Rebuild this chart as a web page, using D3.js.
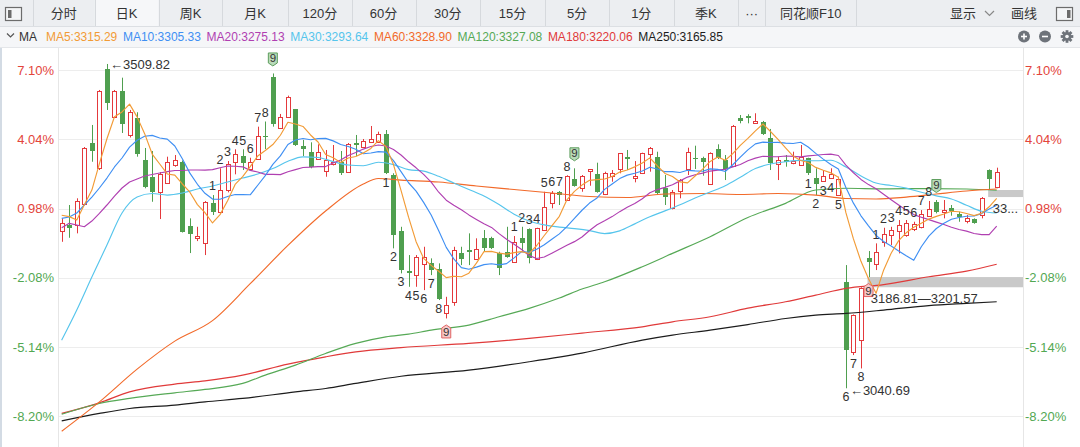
<!DOCTYPE html>
<html lang="zh-CN">
<head>
  <meta charset="UTF-8">
  <title>日K</title>
  <script src="https://d3js.org/d3.v7.min.js"></script>
  <style>
    body { margin: 0; background: #fff; }
    svg { display: block; font-family: "Liberation Sans", Arial, "Noto Sans CJK SC", sans-serif; }
  </style>
</head>
<body>
<div id="chart"></div>
<script>
  // ---- data ----
  const basePrice = 3268.6;   // price at 0%
  const pctTicks = [7.10, 4.04, 0.98, -2.08, -5.14, -8.20];
  const tickLabels = ["7.10%", "4.04%", "0.98%", "-2.08%", "-5.14%", "-8.20%"];

  const tabs = ["分时", "日K", "周K", "月K", "120分", "60分", "30分", "15分", "5分", "1分", "季K", "···", "同花顺F10"];

  const maNames = ["MA5", "MA10", "MA20", "MA30", "MA60", "MA120", "MA180", "MA250"];
  const maLast = ["3315.29", "3305.33", "3275.13", "3293.64", "3328.90", "3327.08", "3220.06", "3165.85"];
  const maColors = ["#f29b36", "#3f8ff3", "#b03fb1", "#56c5ec", "#f26a2a", "#56a956", "#e03a3a", "#1c1c1c"];

  const open = [3268.6,3276.8,3276.8,3306.8,3395.9,3359.8,3502.6,3433.1,3471.2,3406.4,
    3431.3,3370.9,3346.3,3325.0,3338.0,3363.7,3368.4,3276.1,3257.6,3251.2,
    3309.1,3296.1,3327.5,3367.3,3377.4,3358.3,3372.3,3405.2,3491.5,3416.8,
    3432.7,3444.0,3391.2,3382.5,3371.9,3355.7,3364.4,3368.4,3354.0,3396.2,
    3390.2,3397.4,3397.4,3408.5,3349.2,3268.1,3210.2,3204.4,3219.9,3221.4,
    3212.7,3149.9,3165.8,3235.8,3240.6,3227.6,3257.6,3257.6,3235.8,3238.2,
    3223.7,3257.6,3271.0,3227.6,3269.6,3308.2,3325.0,3313.0,3343.4,3330.0,
    3355.0,3350.2,3321.3,3348.2,3357.9,3374.8,3345.3,3351.7,3379.2,3375.7,
    3330.0,3301.0,3326.0,3357.4,3374.2,3374.2,3335.7,3386.4,3370.9,3362.6,
    3432.1,3435.0,3424.9,3426.3,3403.2,3364.7,3370.9,3366.1,3363.7,3373.4,
    3344.4,3340.5,3344.4,3320.2,3193.9,3093.4,3110.4,3229.5,3219.9,3252.6,
    3262.3,3268.1,3262.3,3271.0,3274.3,3290.3,3309.7,3296.1,3301.9,3292.3,
    3282.6,3285.1,3291.3,3356.4,3332.3];
  const high = [3286.5,3305.8,3315.5,3389.7,3421.6,3472.2,3509.82,3472.2,3490.0,3443.3,
    3440.0,3388.3,3383.9,3353.5,3375.7,3378.1,3370.2,3286.5,3274.3,3311.5,
    3320.2,3358.9,3369.4,3386.4,3386.4,3374.2,3419.1,3426.6,3496.1,3437.5,
    3464.0,3444.7,3399.9,3396.5,3393.6,3385.4,3392.6,3383.9,3395.5,3407.1,
    3401.3,3420.1,3411.9,3414.3,3351.7,3274.3,3233.4,3233.4,3245.4,3228.6,
    3221.4,3173.0,3245.4,3245.4,3264.8,3257.6,3269.6,3259.9,3238.2,3274.3,
    3260.9,3274.3,3272.0,3272.9,3325.0,3326.0,3326.0,3348.8,3358.9,3349.2,
    3357.9,3367.0,3354.0,3356.4,3381.0,3385.4,3369.4,3381.5,3389.7,3382.9,
    3349.2,3327.5,3343.4,3388.7,3391.6,3375.7,3382.0,3393.6,3378.1,3421.6,
    3436.0,3437.1,3438.5,3427.4,3415.8,3375.7,3378.1,3382.9,3392.6,3374.2,
    3358.9,3356.4,3358.9,3346.7,3218.9,3147.5,3186.81,3239.2,3250.3,3272.9,
    3274.3,3284.1,3284.1,3281.6,3298.5,3311.6,3313.0,3313.0,3305.8,3296.1,
    3291.3,3286.5,3317.3,3357.4,3359.8];
  const low = [3252.6,3258.4,3264.8,3305.8,3368.4,3356.4,3443.3,3431.7,3410.0,3403.5,
    3375.7,3330.0,3310.5,3285.5,3337.2,3361.2,3266.0,3236.3,3253.6,3233.4,
    3291.3,3294.9,3324.1,3350.2,3356.4,3356.4,3370.9,3386.8,3419.1,3415.8,
    3431.7,3391.2,3376.7,3358.9,3370.9,3346.7,3363.0,3349.2,3353.1,3376.7,
    3388.7,3396.5,3396.5,3350.6,3243.1,3206.9,3187.5,3187.5,3182.7,3204.4,
    3168.3,3141.7,3160.0,3218.9,3218.9,3226.2,3238.2,3242.1,3204.4,3229.5,
    3222.8,3238.2,3221.4,3226.2,3268.9,3301.0,3305.8,3312.0,3332.3,3325.0,
    3333.7,3323.6,3320.2,3339.5,3351.7,3356.4,3338.6,3350.6,3354.0,3320.2,
    3305.8,3299.5,3315.5,3349.2,3357.9,3348.2,3334.7,3372.3,3341.9,3361.2,
    3424.0,3424.0,3424.0,3407.1,3356.4,3341.9,3361.2,3364.7,3362.6,3349.2,
    3320.2,3339.5,3343.4,3319.2,3040.69,3088.7,3069.4,3201.57,3211.7,3245.4,
    3247.9,3235.8,3259.9,3268.1,3272.0,3288.8,3293.7,3286.5,3290.3,3281.6,
    3279.3,3278.7,3286.5,3327.5,3330.0];
  const close = [3280.1,3272.9,3311.6,3387.8,3384.4,3471.2,3453.0,3471.2,3422.6,3440.4,
    3379.2,3331.4,3323.9,3350.6,3368.4,3370.9,3267.1,3264.5,3260.9,3310.5,
    3296.1,3327.5,3364.7,3379.2,3366.6,3368.4,3405.2,3403.8,3422.6,3433.6,
    3462.5,3391.9,3386.4,3361.2,3382.9,3371.6,3368.7,3351.7,3394.1,3393.3,
    3398.4,3400.9,3408.1,3351.7,3262.3,3211.7,3207.3,3230.9,3230.9,3211.7,
    3169.3,3161.0,3240.6,3227.6,3237.3,3242.1,3244.0,3243.1,3214.1,3230.9,
    3252.6,3251.2,3229.5,3272.0,3303.3,3322.7,3320.2,3348.2,3333.7,3348.2,
    3357.4,3325.0,3352.5,3351.7,3380.6,3372.3,3347.7,3380.6,3388.7,3322.7,
    3317.8,3325.0,3341.9,3382.0,3372.3,3367.6,3380.6,3374.2,3357.9,3420.6,
    3427.4,3431.3,3427.8,3408.1,3366.1,3370.9,3368.4,3369.4,3375.7,3351.7,
    3335.7,3348.2,3350.2,3343.4,3095.9,3146.5,3185.5,3223.7,3238.2,3263.4,
    3269.6,3276.8,3280.1,3277.8,3292.3,3300.0,3296.1,3298.5,3297.1,3288.8,
    3287.4,3280.1,3316.3,3343.4,3353.1];

  // moving averages, one value per candle
  const ma5 = [3291,3289,3284,3306,3327.4,3365.6,3401.6,3433.5,3440.5,3451.7,
    3433.3,3409.0,3379.5,3365.1,3350.7,3349.0,3336.2,3324.3,3306.4,3294.8,
    3279.8,3291.9,3311.9,3335.6,3346.8,3361.3,3376.8,3384.6,3393.3,3406.7,
    3425.5,3422.9,3419.4,3407.1,3397.0,3378.8,3374.2,3367.2,3373.8,3375.9,
    3381.2,3387.7,3399.0,3390.5,3364.3,3326.9,3288.2,3252.8,3228.6,3218.5,
    3210.0,3200.8,3202.7,3202.0,3207.2,3221.7,3238.3,3238.8,3236.1,3234.8,
    3236.9,3238.4,3235.7,3247.2,3261.7,3275.7,3289.5,3313.3,3325.6,3334.6,
    3341.5,3342.5,3343.4,3347.0,3353.4,3356.4,3361.0,3366.6,3374.0,3362.4,
    3351.5,3347.0,3339.2,3337.9,3347.8,3357.8,3368.9,3375.3,3370.5,3380.2,
    3392.1,3402.3,3413.0,3423.0,3412.1,3400.8,3388.3,3376.6,3370.1,3367.2,
    3360.2,3356.1,3352.3,3345.8,3294.7,3256.8,3224.3,3199.0,3178.0,3211.5,
    3236.1,3254.3,3265.6,3273.5,3279.3,3285.4,3289.3,3292.9,3296.8,3296.1,
    3293.6,3290.4,3293.9,3303.2,3315.3];
  const ma10 = [3286.5,3288.4,3294.2,3305.8,3317.3,3330.4,3344.8,3360.8,3373.8,3389.6,
    3399.5,3405.3,3406.5,3402.8,3401.2,3391.2,3372.6,3351.9,3335.8,3322.8,
    3314.4,3314.1,3318.1,3321.0,3320.8,3320.6,3334.4,3348.3,3364.5,3376.8,
    3393.4,3399.9,3402.0,3400.2,3401.9,3402.2,3398.6,3393.3,3390.5,3386.5,
    3380.0,3381.0,3383.1,3382.2,3370.1,3354.1,3338.0,3325.9,3309.6,3291.4,
    3268.5,3244.5,3227.8,3215.3,3212.9,3215.9,3219.6,3220.8,3219.1,3221.0,
    3229.3,3238.4,3237.3,3241.7,3248.3,3256.3,3264.0,3274.5,3286.4,3298.2,
    3308.6,3316.0,3328.4,3336.3,3344.0,3349.0,3351.8,3355.0,3360.5,3357.9,
    3354.0,3354.0,3352.9,3356.0,3355.1,3354.7,3358.0,3357.3,3354.2,3364.0,
    3375.0,3385.6,3394.2,3396.8,3396.2,3396.5,3395.3,3394.8,3396.6,3389.7,
    3380.5,3372.2,3364.5,3358.0,3331.0,3308.5,3290.2,3275.7,3261.9,3253.1,
    3246.5,3239.3,3232.3,3225.8,3245.4,3260.8,3271.8,3279.3,3285.2,3287.7,
    3289.5,3289.9,3293.4,3300.0,3305.3];
  const ma20 = [3272.9,3279.3,3276.8,3274.3,3282.6,3293.7,3305.8,3318.8,3330.4,3339.1,
    3343.4,3347.7,3349.9,3352.1,3354.0,3355.7,3355.7,3356.4,3356.4,3356.2,
    3357.0,3359.7,3362.3,3361.9,3361.0,3355.9,3353.5,3350.1,3350.2,3349.8,
    3353.9,3357.0,3360.1,3360.6,3361.4,3361.4,3366.5,3370.8,3377.5,3381.7,
    3386.7,3390.5,3392.6,3391.2,3386.0,3378.2,3368.3,3359.6,3350.1,3339.0,
    3324.3,3312.8,3305.5,3298.8,3291.5,3285.0,3278.8,3273.4,3264.4,3256.2,
    3248.9,3241.5,3232.6,3228.5,3230.6,3236.1,3241.8,3247.7,3252.8,3259.6,
    3269.0,3277.2,3282.9,3289.0,3296.2,3302.7,3307.9,3314.8,3323.5,3328.1,
    3331.3,3335.0,3340.7,3346.2,3349.6,3351.9,3354.9,3356.2,3357.4,3361.0,
    3364.5,3369.8,3373.6,3376.4,3375.7,3375.6,3376.7,3376.1,3375.4,3376.9,
    3377.8,3378.9,3379.4,3377.4,3363.6,3352.5,3342.8,3335.3,3329.3,3321.4,
    3313.5,3305.8,3298.4,3291.9,3288.2,3284.7,3281.0,3277.5,3273.6,3270.4,
    3268.0,3264.6,3262.9,3262.9,3275.1];
  // MA30, every second candle (0, 2, 4 ... 124)
  const ma30 = [3110.3,3153.8,3201.5,3247.9,3294.2,3317.3,3322.4,3320.2,3323.1,3328.9,
    3333.3,3339.1,3344.8,3350.6,3358.5,3369.1,3375.5,3374.6,3368.5,3363.6,
    3362.6,3367.7,3364.3,3357.0,3354.9,3347.3,3337.6,3328.3,3318.7,3306.4,
    3292.6,3282.7,3277.1,3273.9,3271.7,3268.8,3264.5,3268.4,3278.5,3288.7,
    3297.3,3306.2,3315.8,3324.6,3333.7,3345.9,3358.5,3365.1,3368.4,3370.4,
    3369.8,3370.5,3360.8,3347.8,3337.6,3334.0,3330.3,3324.2,3319.1,3314.6,
    3305.5,3296.7,3294.2];
  // long averages as [candle, price] readings
  const ma60 = [[0,2978.6],[5,3021.0],[10,3068.4],[15,3108.9],[20,3138.6],[25,3192.0],[30,3247.3],
    [35,3297.1],[40,3336.2],[42,3344.1],[45,3341.9],[50,3339.1],[55,3333.3],[60,3328.2],[65,3323.1],
    [70,3318.1],[75,3316.6],[80,3321.7],[85,3322.4],[90,3321.0],[95,3322.4],[100,3320.2],[104,3315.2],
    [108,3314.5],[112,3317.3],[116,3321.7],[120,3326.0],[124,3328.9]];
  const ma120 = [[0,3003.2],[5,3018.7],[9,3026.0],[15,3034.1],[19,3039.0],[24,3047.7],[27,3059.7],
    [31,3074.2],[35,3091.1],[39,3105.6],[43,3115.1],[46,3119.0],[49,3124.8],[54,3132.1],[58,3144.1],
    [62,3156.2],[66,3171.2],[69,3184.2],[72,3194.7],[77,3216.5],[81,3235.8],[86,3259.9],[91,3287.7],
    [96,3308.2],[100,3327.5],[104,3330.0],[109,3329.2],[115,3329.6],[120,3328.9],[124,3327.08]];
  const ma180 = [[0,3004.3],[5,3019.6],[9,3035.5],[15,3046.7],[19,3051.4],[24,3059.7],[30,3075.6],
    [35,3086.2],[39,3093.4],[45,3099.5],[54,3105.6],[62,3112.8],[69,3120.5],[77,3129.6],[81,3136.8],
    [86,3144.1],[91,3156.7],[96,3165.8],[100,3175.5],[104,3185.2],[109,3190.7],[115,3202.0],
    [120,3210.2],[124,3220.06]];
  const ma250 = [[0,2993.5],[5,3004.3],[9,3011.5],[15,3016.3],[19,3021.1],[24,3026.0],[31,3035.5],
    [35,3040.4],[39,3047.7],[45,3058.0],[54,3066.9],[62,3079.0],[69,3091.5],[77,3110.4],[81,3117.6],
    [86,3124.8],[91,3132.8],[96,3141.7],[100,3146.5],[104,3149.0],[109,3153.8],[115,3160.3],
    [120,3163.5],[124,3165.85]];

  // nine-count sequences: first candle and side
  const tdStarts = [20, 43, 60, 99, 108];
  const tdSides = ["up", "down", "up", "down", "up"];
  // price gaps: candle that opens the gap, and its label
  const gapCandles = [107, 123];
  const gapLabels = ["3186.81—3201.57", "33..."];

  // ---- layout ----
  const W = 1080, H = 447;
  const plotL = 58, plotR = 1023, plotT = 47, plotB = 447;
  const red = "#e4393c", green = "#4f9f4f", txtRed = "#e3443b", txtGreen = "#52a852";

  const svg = d3.select("#chart").append("svg").attr("width", W).attr("height", H);

  const x = d3.scaleLinear().domain([0, close.length - 1]).range([61.7, 996.7]);
  const toPrice = p => basePrice * (1 + p / 100);
  const y = d3.scaleLinear().domain([toPrice(-8.20), toPrice(7.10)]).range([416, 70.3]);

  // header tabs
  const tabEdges = [32.8, 94.8, 158.6, 222.4, 288, 351.7, 415.5, 480, 545, 609, 673.5, 738, 765.3, 856.3];
  const head = svg.append("g");
  head.append("rect").attr("width", W).attr("height", 26).attr("fill", "#eceef1");
  head.append("rect").attr("x", tabEdges[1]).attr("width", tabEdges[2] - tabEdges[1]).attr("height", 26).attr("fill", "#f6f7f9");
  head.append("line").attr("x1", 0).attr("x2", W).attr("y1", 26.5).attr("y2", 26.5).attr("stroke", "#dcdfe3");
  head.selectAll("line.sep").data(tabEdges).enter().append("line")
    .attr("class", "sep")
    .attr("x1", d => Math.round(d) + 0.5).attr("x2", d => Math.round(d) + 0.5)
    .attr("y1", 0).attr("y2", 26).attr("stroke", "#d6d9dd");
  head.selectAll("text.tab").data(tabs).enter().append("text")
    .attr("class", "tab")
    .attr("x", (d, i) => (tabEdges[i] + tabEdges[i + 1]) / 2)
    .attr("y", 13.5).attr("dy", "0.35em")
    .attr("text-anchor", "middle").attr("font-size", 13).attr("fill", "#333")
    .text(d => d);
  head.append("text").attr("x", 950).attr("y", 13.5).attr("dy", "0.35em")
    .attr("font-size", 13).attr("fill", "#333").text("显示");
  head.append("polyline").attr("points", "985,11 989.5,15.5 994,11")
    .attr("fill", "none").attr("stroke", "#888").attr("stroke-width", 1.2);
  head.append("text").attr("x", 1011).attr("y", 13.5).attr("dy", "0.35em")
    .attr("font-size", 13).attr("fill", "#333").text("画线");
  // panel icons
  function panelIcon(x0, barLeft) {
    head.append("rect").attr("x", x0 + 0.5).attr("y", 7.5).attr("width", 16).attr("height", 13)
      .attr("fill", "#f4f5f7").attr("stroke", "#6c6c6c").attr("stroke-width", 1.2);
    head.append("rect").attr("x", barLeft ? x0 + 3 : x0 + 11).attr("y", 10).attr("width", 3.5).attr("height", 8)
      .attr("fill", "#6c6c6c");
  }
  panelIcon(5, true);
  panelIcon(1056, false);

  // MA legend row
  const leg = svg.append("g");
  leg.append("rect").attr("y", 27).attr("width", W).attr("height", 20).attr("fill", "#f5f6f8");
  leg.append("line").attr("x1", 0).attr("x2", W).attr("y1", 47.5).attr("y2", 47.5).attr("stroke", "#e4e6e9");
  leg.append("polyline").attr("points", "7,33.5 10.5,37 14,33.5")
    .attr("fill", "none").attr("stroke", "#555").attr("stroke-width", 1.2);
  leg.append("text").attr("x", 19).attr("y", 36.5).attr("dy", "0.35em")
    .attr("font-size", 12).attr("fill", "#333").text("MA");
  let lx = 45.9;
  maNames.forEach((n, k) => {
    const t = leg.append("text").attr("x", lx).attr("y", 36.5).attr("dy", "0.35em")
      .attr("font-size", 12).attr("fill", maColors[k]).text(n + ":" + maLast[k]);
    lx += t.node().getComputedTextLength() + 5.6;
  });
  // zoom in / out / settings
  [1024, 1045].forEach((cx, k) => {
    leg.append("circle").attr("cx", cx).attr("cy", 36.5).attr("r", 6).attr("fill", "#6e737a");
    leg.append("line").attr("x1", cx - 3).attr("x2", cx + 3).attr("y1", 36.5).attr("y2", 36.5)
      .attr("stroke", "#fff").attr("stroke-width", 1.6);
    if (k === 0) leg.append("line").attr("x1", cx).attr("x2", cx).attr("y1", 33.5).attr("y2", 39.5)
      .attr("stroke", "#fff").attr("stroke-width", 1.6);
  });
  const gear = leg.append("g").attr("transform", "translate(1067,36.5)");
  d3.range(8).forEach(k => {
    gear.append("rect").attr("x", -1.4).attr("y", -6.3).attr("width", 2.8).attr("height", 3)
      .attr("fill", "#6e737a").attr("transform", `rotate(${k * 45})`);
  });
  gear.append("circle").attr("r", 4.4).attr("fill", "#6e737a");
  gear.append("circle").attr("r", 1.8).attr("fill", "#f5f6f8");

  // plot frame and grid
  svg.append("rect").attr("x", 0).attr("y", plotT + 1).attr("width", 2).attr("height", plotB - plotT)
    .attr("fill", "#d3dbe4");
  svg.append("g").selectAll("line").data(pctTicks).enter().append("line")
    .attr("x1", plotL).attr("x2", plotR)
    .attr("y1", d => Math.round(y(toPrice(d))) + 0.5).attr("y2", d => Math.round(y(toPrice(d))) + 0.5)
    .attr("stroke", "#ededed");
  [plotL, plotR].forEach(px => {
    svg.append("line").attr("x1", px + 0.5).attr("x2", px + 0.5).attr("y1", plotT + 1).attr("y2", plotB)
      .attr("stroke", "#e6e6e6");
  });

  // percent axes
  const tickPrices = pctTicks.map(toPrice);
  function styleAxis(g) {
    g.select(".domain").remove();
    g.attr("font-family", null).attr("font-size", 13);
    g.selectAll("text").attr("fill", (d, i) => pctTicks[i] > 0 ? txtRed : txtGreen);
  }
  svg.append("g").attr("transform", `translate(${plotL},0)`)
    .call(d3.axisLeft(y).tickValues(tickPrices).tickSize(0).tickPadding(4).tickFormat((d, i) => tickLabels[i]))
    .call(styleAxis);
  svg.append("g").attr("transform", `translate(${plotR},0)`)
    .call(d3.axisRight(y).tickValues(tickPrices).tickSize(0).tickPadding(2).tickFormat((d, i) => tickLabels[i]))
    .call(styleAxis);

  svg.append("clipPath").attr("id", "plotClip").append("rect")
    .attr("x", plotL + 1).attr("y", plotT + 1).attr("width", plotR - plotL - 1).attr("height", plotB - plotT);
  const plot = svg.append("g").attr("clip-path", "url(#plotClip)");

  // gap bands
  gapCandles.forEach(j => {
    const top = y(low[j]), bot = y(high[j - 1]);
    plot.append("rect").attr("x", x(j) - 1).attr("y", top).attr("width", plotR - x(j) + 1)
      .attr("height", bot - top).attr("fill", "#c9c9c9");
  });

  // candles
  const candles = plot.append("g");
  close.forEach((c, i) => {
    const o = open[i];
    const rc = Math.round(x(i));
    const wx = rc + 0.5;
    const yH = y(high[i]), yL = y(low[i]);
    if (c >= o) {
      const t = Math.round(y(c)) + 0.5, b = Math.round(y(o)) + 0.5;
      candles.append("line").attr("x1", wx).attr("x2", wx).attr("y1", yH).attr("y2", t)
        .attr("stroke", red);
      candles.append("line").attr("x1", wx).attr("x2", wx).attr("y1", b).attr("y2", yL)
        .attr("stroke", red);
      candles.append("rect").attr("x", rc - 1.5).attr("y", t).attr("width", 4)
        .attr("height", Math.max(b - t, 0.01)).attr("fill", "#fff").attr("stroke", red);
    } else {
      const t = Math.round(y(o)), b = Math.round(y(c));
      candles.append("line").attr("x1", wx).attr("x2", wx).attr("y1", yH).attr("y2", yL)
        .attr("stroke", green);
      candles.append("rect").attr("x", rc - 2).attr("y", t).attr("width", 5)
        .attr("height", Math.max(b - t, 1)).attr("fill", green);
    }
  });

  // moving average lines
  const lineGen = d3.line().x(d => x(d[0])).y(d => y(d[1]));
  const smoothGen = d3.line().x(d => x(d[0])).y(d => y(d[1])).curve(d3.curveMonotoneX);
  const maSeries = [
    ma5.map((v, i) => [i, v]),
    ma10.map((v, i) => [i, v]),
    ma20.map((v, i) => [i, v]),
    ma30.map((v, k) => [k * 2, v]),
    ma60, ma120, ma180, ma250
  ];
  const drawOrder = [7, 6, 5, 4, 3, 2, 1, 0];
  drawOrder.forEach(k => {
    plot.append("path").datum(maSeries[k])
      .attr("d", k < 3 ? lineGen : smoothGen)
      .attr("fill", "none").attr("stroke", maColors[k]).attr("stroke-width", 1.15)
      .attr("stroke-linejoin", "round");
  });

  // nine-count labels
  const marks = svg.append("g").attr("font-size", 12.5).attr("fill", "#333");
  tdStarts.forEach((s, q) => {
    const up = tdSides[q] === "up";
    d3.range(9).forEach(k => {
      const i = s + k;
      const cx = x(i);
      if (k < 8) {
        const cy = up ? y(high[i]) - 9 : y(low[i]) + 8.5;
        marks.append("text").attr("x", cx).attr("y", cy).attr("dy", "0.35em")
          .attr("text-anchor", "middle").text(k + 1);
      } else {
        const cy = up ? y(high[i]) - 14 : y(low[i]) + 13;
        const p = up
          ? `M${cx - 4.5},${cy - 6.5}H${cx + 4.5}V${cy + 3.5}L${cx},${cy + 6.5}L${cx - 4.5},${cy + 3.5}Z`
          : `M${cx - 4.5},${cy - 3.5}L${cx},${cy - 6.5}L${cx + 4.5},${cy - 3.5}V${cy + 6.5}H${cx - 4.5}Z`;
        marks.append("path").attr("d", p)
          .attr("fill", up ? "#b9dab9" : "#f6c8c8")
          .attr("stroke", up ? "#5e9e5e" : "#e06464").attr("stroke-width", 1);
        marks.append("text").attr("x", cx).attr("y", up ? cy - 1 : cy + 1).attr("dy", "0.35em")
          .attr("text-anchor", "middle").attr("font-size", 11.5).text("9");
      }
    });
  });

  // highest / lowest price marks
  const hiIdx = d3.maxIndex(high), loIdx = d3.minIndex(low);
  const ext = svg.append("g").attr("font-size", 13).attr("fill", "#333");
  ext.append("text").attr("x", x(hiIdx) + 3).attr("y", y(high[hiIdx])).attr("dy", "0.35em")
    .text("←" + high[hiIdx].toFixed(2));
  ext.append("text").attr("x", x(loIdx) + 4).attr("y", y(low[loIdx]) + 2).attr("dy", "0.35em")
    .text("←" + low[loIdx].toFixed(2));

  // gap labels
  gapCandles.forEach((j, k) => {
    ext.append("text").attr("x", x(j) + (k === 0 ? 2.2 : 3.6)).attr("y", y(high[j - 1]) + 11)
      .attr("dy", "0.35em").text(gapLabels[k]);
  });
</script>
</body>
</html>
